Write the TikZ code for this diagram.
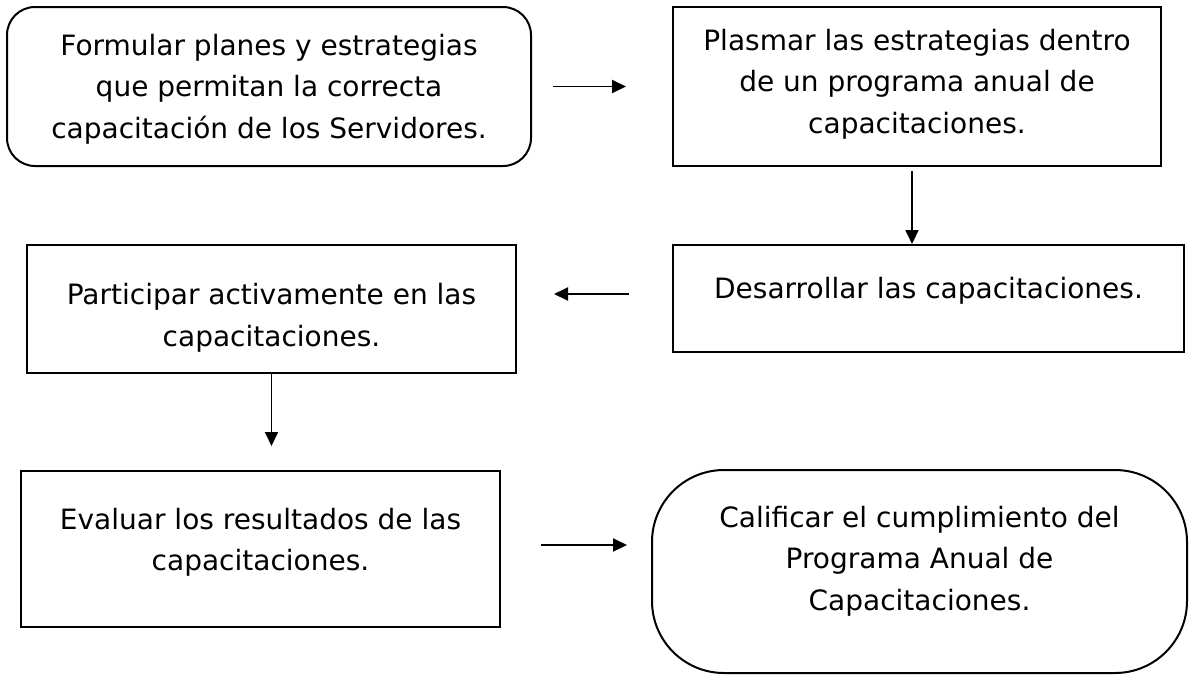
\documentclass[tikz,border=0pt]{standalone}
\usepackage{fontspec}
\setmainfont{DejaVu Sans}
\usetikzlibrary{arrows.meta}

\begin{document}
\begin{tikzpicture}[
  x=1pt, y=-1pt,
  font=\fontsize{28}{41.5}\selectfont,
  >=Triangle,
  box/.style={draw=black, line width=2pt, inner sep=0pt},
  roundbox/.style={box, rounded corners=28pt},
  endbox/.style={box, rounded corners=72pt},
  steptext/.style={align=center, inner sep=0pt},
  arrow/.style={-{Triangle[length=14pt, width=13pt]}, line width=1.9pt}
]
\useasboundingbox (0,0) rectangle (1190,675);

\node[roundbox, minimum width=524pt, minimum height=159pt] (formular) at (269,86.5) {};
\node[box, minimum width=488pt, minimum height=159pt] (plasmar) at (917,86.5) {};
\node[box, minimum width=511pt, minimum height=107pt] (desarrollar) at (928.5,298.5) {};
\node[box, minimum width=489pt, minimum height=128pt] (participar) at (271.5,309) {};
\node[box, minimum width=479pt, minimum height=156pt] (evaluar) at (260.5,549) {};
\node[endbox, minimum width=535pt, minimum height=203pt] (calificar) at (919.5,571.5) {};

\node[steptext] (formular-t) at (269,89)
  {Formular planes y estrategias\\que permitan la correcta\\capacitación de los Servidores.};
\node[steptext] (plasmar-t) at (917,84)
  {Plasmar las estrategias dentro\\de un programa anual de\\capacitaciones.};
\node[steptext] (desarrollar-t) at (928.5,290.5)
  {Desarrollar las capacitaciones.};
\node[steptext] (participar-t) at (271.5,318)
  {Participar activamente en las\\capacitaciones.};
\node[steptext] (evaluar-t) at (260.5,542.5)
  {Evaluar los resultados de las\\capacitaciones.};
\node[steptext] (calificar-t) at (919.5,561)
  {Calificar el cumplimiento del\\Programa Anual de\\Capacitaciones.};

\draw[arrow, shorten <=21pt, shorten >=46pt] (formular) -- (plasmar);
\draw[arrow, shorten <=4pt] ([xshift=-5pt]plasmar.south) -- ([xshift=-5pt]plasmar.south |- desarrollar.north);
\draw[arrow, shorten <=43pt, shorten >=37pt] ([yshift=4.5pt]desarrollar.west) -- ([yshift=4.5pt]desarrollar.west -| participar.east);
\draw[arrow, shorten >=24pt] (participar.south) -- (participar.south |- evaluar.north);
\draw[arrow, shorten <=40pt, shorten >=24pt] ([yshift=4pt]evaluar.east) -- ([yshift=4pt]evaluar.east -| calificar.west);

\end{tikzpicture}
\end{document}
